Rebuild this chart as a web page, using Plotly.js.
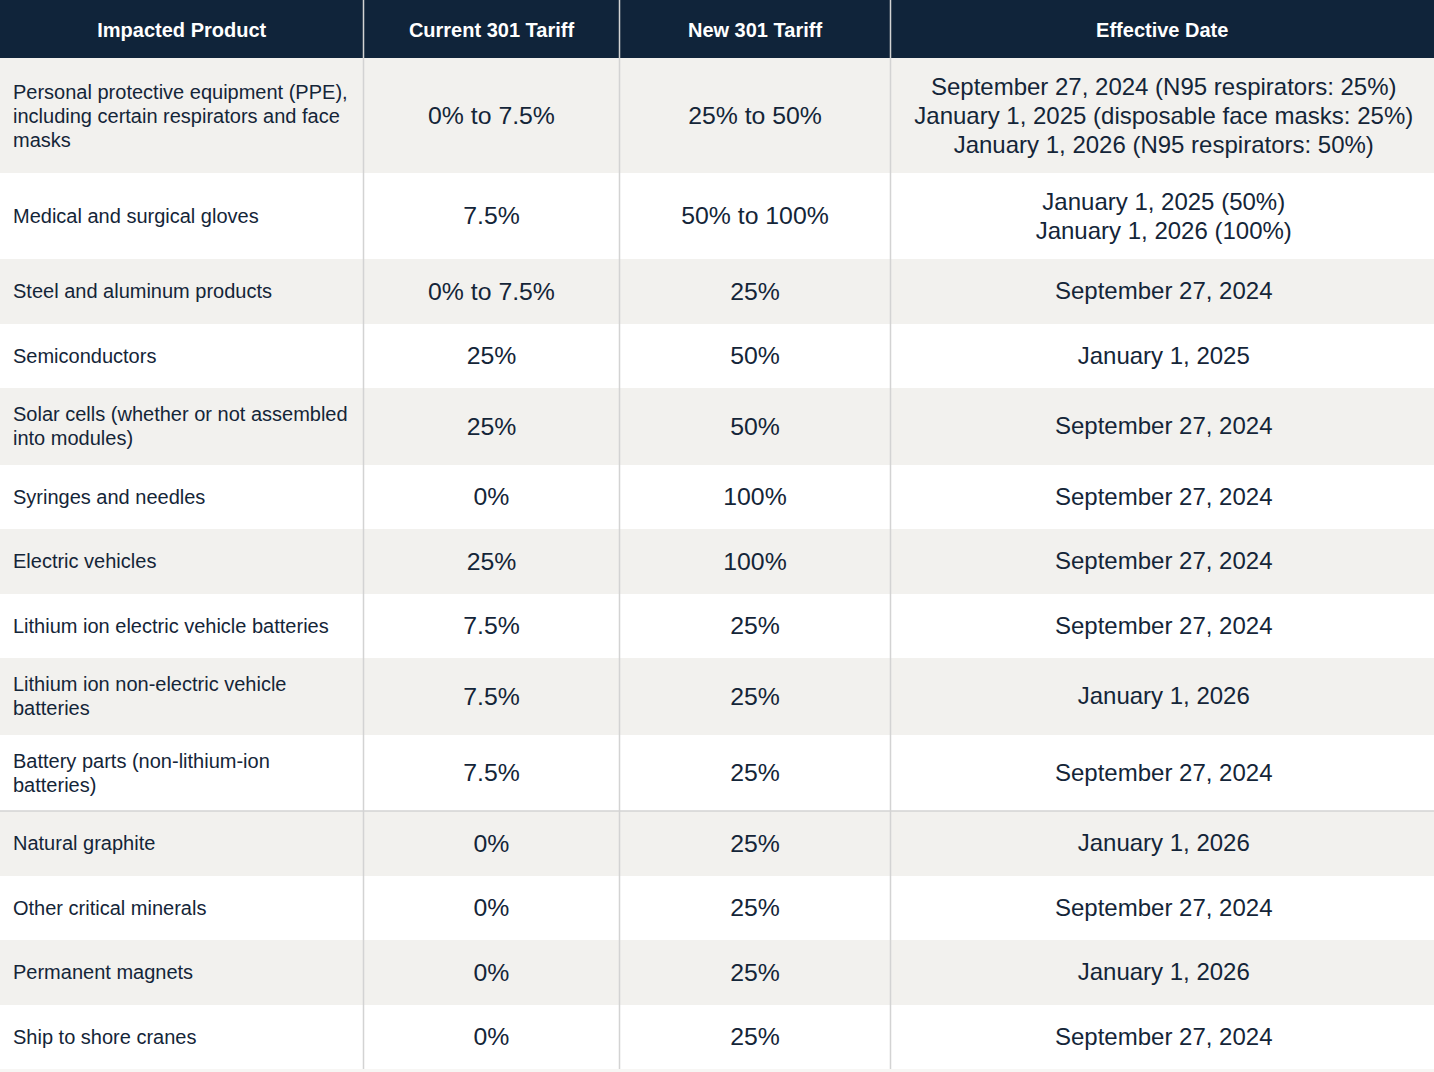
<!DOCTYPE html>
<html><head><meta charset="utf-8">
<script src="https://cdn.plot.ly/plotly-3.0.1.min.js"></script>
<style>html,body{margin:0;padding:0;background:#fff;overflow:hidden}</style>
</head><body><div id="chart" style="width:1434px;height:1072px"></div>
<script>
// ---- data ----
const headers = ["Impacted Product", "Current 301 Tariff", "New 301 Tariff", "Effective Date"];
const products = [
  "Personal protective equipment (PPE),<br>including certain respirators and face<br>masks",
  "Medical and surgical gloves",
  "Steel and aluminum products",
  "Semiconductors",
  "Solar cells (whether or not assembled<br>into modules)",
  "Syringes and needles",
  "Electric vehicles",
  "Lithium ion electric vehicle batteries",
  "Lithium ion non-electric vehicle<br>batteries",
  "Battery parts (non-lithium-ion<br>batteries)",
  "Natural graphite",
  "Other critical minerals",
  "Permanent magnets",
  "Ship to shore cranes"
];
const currentTariff = ["0% to 7.5%", "7.5%", "0% to 7.5%", "25%", "25%", "0%", "25%", "7.5%", "7.5%", "7.5%", "0%", "0%", "0%", "0%"];
const newTariff = ["25% to 50%", "50% to 100%", "25%", "50%", "50%", "100%", "100%", "25%", "25%", "25%", "25%", "25%", "25%", "25%"];
const effectiveDate = [
  "September 27, 2024 (N95 respirators: 25%)<br>January 1, 2025 (disposable face masks: 25%)<br>January 1, 2026 (N95 respirators: 50%)",
  "January 1, 2025 (50%)<br>January 1, 2026 (100%)",
  "September 27, 2024",
  "January 1, 2025",
  "September 27, 2024",
  "September 27, 2024",
  "September 27, 2024",
  "September 27, 2024",
  "January 1, 2026",
  "September 27, 2024",
  "January 1, 2026",
  "September 27, 2024",
  "January 1, 2026",
  "September 27, 2024"
];

// ---- layout / style constants ----
const W = 1434, H = 1072, HEADER_H = 58;
const colEdges = [0, 363.5, 619.5, 890.5, W];
const PRODUCT_LH = 24, VALUE_LH = 29, MIN_ROW = 64.5;
const TEXT_DY = 2.2;
const NAVY = "#10243a", GRAY = "#f2f1ee", WHITE = "#ffffff", TEXT = "#142538", RULE = "#d3d3d3";
const FONT = "Liberation Sans, Arial, Helvetica, sans-serif";
const dividerAfterRow = 9; // rule under "Battery parts"

const nLines = s => s.split("<br>").length;
const rowH = products.map((p, i) => Math.max(
  MIN_ROW,
  nLines(p) * PRODUCT_LH + 28.5,
  nLines(effectiveDate[i]) * VALUE_LH + 28,
  nLines(currentTariff[i]) * VALUE_LH + 28,
  nLines(newTariff[i]) * VALUE_LH + 28
));
const rowTop = [];
let acc = HEADER_H;
rowH.forEach(h => { rowTop.push(acc); acc += h; });
const tableBottom = acc;
const rowCenter = rowTop.map((t, i) => t + rowH[i] / 2);

// background bars
const bgY = [HEADER_H / 2].concat(rowCenter);
const bgW = [HEADER_H].concat(rowH);
const bgC = [NAVY].concat(rowH.map((_, i) => i % 2 === 0 ? GRAY : WHITE));
const bgTrace = {
  type: "bar", orientation: "h",
  y: bgY, x: bgY.map(() => W), base: 0, width: bgW,
  marker: { color: bgC, line: { width: 0 } },
  hoverinfo: "skip", showlegend: false
};

// text helper: split multi-line cells into separate lines with exact spacing
function textTrace(cells, xPos, lh, size, pos, color) {
  const xs = [], ys = [], ts = [];
  cells.forEach((c, i) => {
    const lines = c.split("<br>");
    const cy = rowCenter[i] + TEXT_DY;
    lines.forEach((ln, k) => {
      xs.push(xPos);
      ys.push(cy + (k - (lines.length - 1) / 2) * lh);
      ts.push(ln);
    });
  });
  return {
    type: "scatter", mode: "text", x: xs, y: ys, text: ts,
    textposition: pos, cliponaxis: false,
    textfont: { family: FONT, size: size, color: color },
    hoverinfo: "skip", showlegend: false
  };
}

const mid = k => (colEdges[k] + colEdges[k + 1]) / 2;
const traces = [
  bgTrace,
  textTrace(products, 13, PRODUCT_LH, 20, "middle right", TEXT),
  textTrace(currentTariff, mid(1), VALUE_LH, 24.8, "middle center", TEXT),
  textTrace(newTariff, mid(2), VALUE_LH, 24.8, "middle center", TEXT),
  textTrace(effectiveDate, mid(3) + 1.5, VALUE_LH, 24, "middle center", TEXT)
];

// header text
traces.push({
  type: "scatter", mode: "text",
  x: headers.map((_, k) => mid(k)), y: headers.map(() => HEADER_H / 2 + 3),
  text: headers.map(h => "<b>" + h + "</b>"),
  textposition: "middle center", cliponaxis: false,
  textfont: { family: FONT, size: 20, color: "#ffffff" },
  hoverinfo: "skip", showlegend: false
});

// rules
const lx = [], ly = [];
colEdges.slice(1, -1).forEach(x => { lx.push(x, x, null); ly.push(0, tableBottom, null); });
const divY = rowTop[dividerAfterRow] + rowH[dividerAfterRow];
lx.push(0, W, null); ly.push(divY, divY, null);
traces.push({
  type: "scatter", mode: "lines", x: lx, y: ly,
  line: { color: RULE, width: 1.5 }, hoverinfo: "skip", showlegend: false
});

const layout = {
  width: W, height: H,
  margin: { l: 0, r: 0, t: 0, b: 0, pad: 0 },
  paper_bgcolor: "#f7f6f4", plot_bgcolor: "#f7f6f4",
  bargap: 0,
  xaxis: { range: [0, W], visible: false, fixedrange: true },
  yaxis: { range: [H, 0], visible: false, fixedrange: true },
  showlegend: false
};
Plotly.newPlot("chart", traces, layout, { displayModeBar: false, staticPlot: true });
</script>
</body></html>
